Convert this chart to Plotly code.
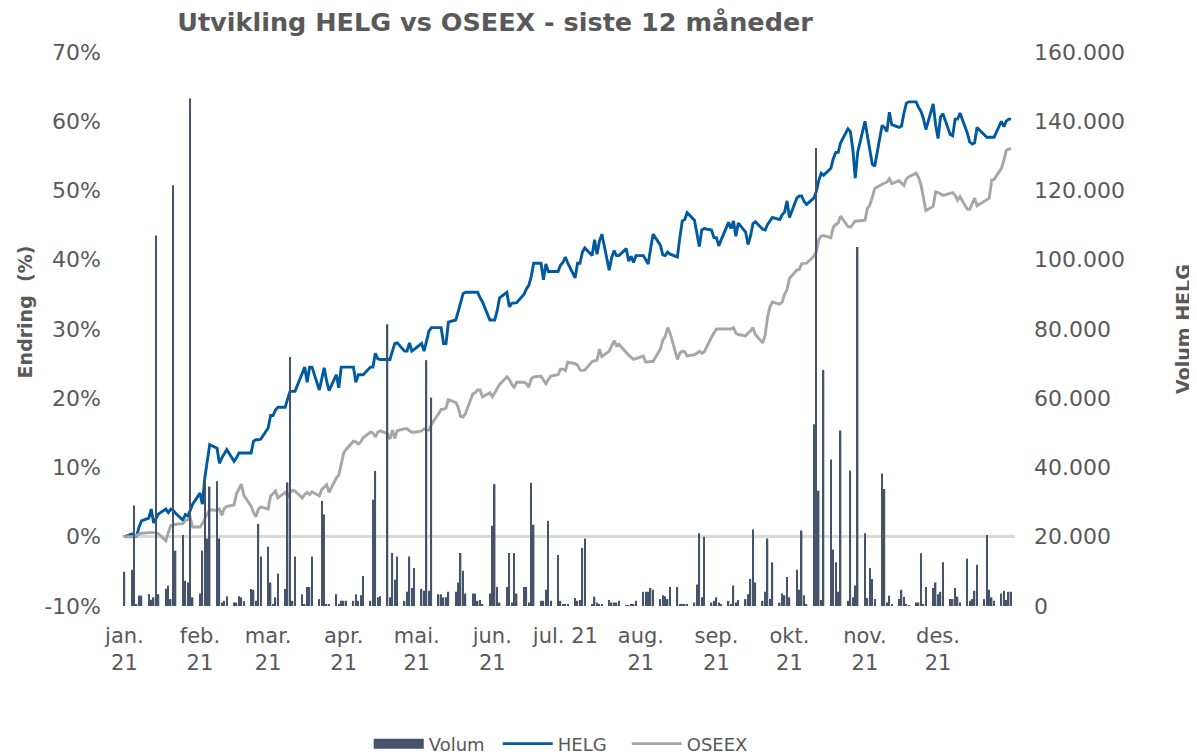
import pandas as pd
import plotly.graph_objects as go

# Trading days (weekdays) of 2021
dates = pd.bdate_range("2021-01-01", "2021-12-31")

# HELG, change in % (one row per month)
helg = [
    0, 0.4, 0, 0.1, 1.4, 2.3, 2.7, 4.0, 2.0, 2.7, 3.3, 4.0, 3.5, 4.0, 3.8, 3.4, 2.4, 3.2, 3.0, 3.8, 4.7,
    6.3, 4.7, 8.5, 11.0, 13.3, 12.8, 10.6, 11.4, 12.0, 12.6, 10.9, 11.4, 12.1, 12.1, 12.1, 12.1, 13.8, 14.0, 14.0, 14.1,
    15.7, 17.5, 17.5, 18.3, 18.7, 18.7, 19.9, 21.0, 21.0, 21.0, 23.6, 24.5, 22.3, 24.5, 24.5, 21.2, 22.8, 24.4, 22.5, 21.1, 23.4, 21.5, 24.5,
    24.5, 24.5, 24.5, 22.3, 23.4, 23.4, 23.4, 24.5, 24.5, 26.5, 25.7, 25.6, 25.6, 25.6, 26.8, 27.9, 28.0, 26.8, 26.8, 28.0, 26.8, 27.1,
    27.9, 26.8, 28.4, 29.7, 30.2, 30.2, 30.2, 27.9, 27.9, 31.0, 31.3, 32.5, 33.9, 35.1, 35.3, 35.3, 35.3, 35.3, 34.5, 33.9, 31.3,
    31.3, 31.3, 32.6, 34.5, 35.3, 33.2, 33.7, 33.8, 33.8, 35.0, 35.8, 36.3, 37.6, 39.5, 39.5, 37.1, 39.4, 38.3, 38.3, 38.3, 39.2, 39.6,
    40.4, 39.5, 37.4, 39.5, 39.5, 41.1, 41.7, 40.6, 42.9, 40.8, 42.7, 43.7, 38.5, 40.3, 41.3, 40.6, 40.6, 41.6, 39.8, 40.5, 39.6, 40.6,
    40.6, 40.0, 39.4, 41.6, 43.7, 42.1, 40.7, 40.6, 41.1, 40.8, 40.4, 43.2, 45.6, 45.8, 46.8, 45.7, 43.7, 41.9, 44.3, 44.5, 44.3, 43.2,
    43.2, 42.0, 42.9, 45.4, 44.5, 45.6, 43.4, 45.3, 44.0, 42.2, 43.4, 45.2, 45.5, 44.4, 44.3, 45.1, 45.6, 46.1, 45.8, 46.5, 46.9, 48.5,
    46.1, 48.9, 49.2, 49.2, 48.4, 48.0, 48.9, 49.8, 51.4, 52.5, 52.2, 53.2, 54.6, 55.5, 55.5, 56.9, 58.9, 58.5, 56.0, 51.8, 55.5,
    60.0, 57.9, 55.6, 53.8, 53.5, 59.4, 59.1, 58.5, 61.3, 59.5, 59.1, 59.3, 61.2, 62.6, 62.8, 62.8, 62.0, 61.4, 60.4, 58.8, 62.5, 59.5,
    57.5, 60.6, 61.1, 58.1, 57.9, 60.3, 60.3, 61.2, 58.3, 57.0, 56.7, 56.9, 59.1, 58.0, 57.7, 57.7, 57.7, 57.7, 60.0, 59.2, 60.0, 60.3, 60.3,
]

# OSEEX, change in %
oseex = [
    0, 0, 0, 0.2, 0.4, 0.5, 0.6, 0.6, 0.6, 0.6, 0.4, -0.6, 0.6, 1.6, 1.7, 1.8, 1.9, 2.3, 2.5, 2.7, 1.4,
    1.4, 1.9, 2.7, 3.3, 3.9, 3.8, 4.0, 3.1, 4.1, 4.4, 4.6, 6.2, 6.9, 7.6, 6.0, 4.4, 3.5, 2.9, 4.0, 4.3,
    4.0, 5.9, 6.2, 6.6, 5.6, 6.4, 5.7, 6.4, 6.7, 6.6, 5.6, 6.1, 6.4, 6.1, 6.5, 5.9, 6.8, 7.2, 7.5, 6.4, 8.5, 8.9, 10.4,
    12.1, 12.6, 13.8, 13.7, 13.4, 13.7, 14.3, 15.1, 15.0, 14.4, 15.1, 15.3, 14.9, 14.1, 15.4, 14.2, 15.3, 15.6, 15.6, 15.3, 15.1, 15.1,
    15.3, 15.6, 15.4, 15.4, 16.2, 17.8, 18.4, 18.4, 18.6, 19.8, 19.4, 18.7, 17.4, 17.3, 17.8, 20.6, 20.8, 21.2, 21.2, 20.2, 20.8,
    20.2, 20.8, 21.5, 22.0, 23.1, 22.7, 22.0, 21.6, 22.3, 22.3, 22.1, 21.6, 22.8, 23.1, 23.2, 22.7, 22.1, 22.7, 23.2, 23.4, 24.2, 24.2,
    24.0, 25.2, 25.0, 24.8, 24.1, 24.0, 24.1, 25.3, 25.4, 25.5, 27.1, 26.0, 26.8, 27.7, 28.3, 27.6, 27.8, 26.6, 26.2, 25.9, 25.6, 25.7,
    26.1, 25.2, 25.3, 25.3, 25.3, 27.1, 28.4, 28.9, 30.2, 29.4, 25.6, 26.5, 26.8, 26.7, 26.1, 26.3, 26.5, 26.8, 26.5, 26.7, 28.8, 29.4,
    30.0, 30.0, 30.0, 29.9, 30.0, 30.2, 29.4, 29.2, 29.0, 29.4, 29.7, 30.2, 29.2, 28.0, 29.1, 31.7, 33.2, 33.9, 33.6, 33.9, 35.0, 35.7,
    37.3, 38.5, 38.6, 39.4, 39.4, 39.5, 40.5, 41.1, 42.9, 43.4, 43.5, 43.2, 44.7, 45.1, 45.3, 46.3, 44.8, 44.7, 45.1, 45.6, 45.6,
    45.7, 47.4, 47.9, 49.0, 50.3, 50.9, 51.0, 51.2, 51.7, 51.0, 51.4, 51.1, 50.7, 51.7, 52.0, 52.5, 51.9, 50.8, 49.0, 47.1, 47.7, 49.8,
    49.7, 49.5, 49.3, 49.6, 49.7, 49.3, 48.6, 49.1, 47.3, 47.3, 48.0, 48.9, 47.8, 48.4, 48.6, 48.9, 51.5, 51.6, 53.2, 54.3, 55.8, 56.0, 56.0,
]

# Volume HELG (shares)
volum = [
    9900, 10500, 29000, 400, 3000, 3000, 3500, 1800, 2500, 107000, 3400, 5000, 5900, 2000, 121500, 16000, 20500, 7300, 6800, 146600, 2500,
    3600, 16000, 36600, 19500, 34500, 36000, 19500, 1000, 1500, 2800, 1000, 1000, 2800, 2500, 1400, 4900, 4700, 1500, 23700, 14300,
    17100, 6800, 400, 2500, 9400, 4900, 35700, 71900, 1500, 14300, 3400, 600, 5500, 5500, 14300, 2000, 30300, 26400, 400, 400, 3400, 600, 1500,
    1500, 1500, 1500, 3400, 1500, 3100, 8700, 1500, 30700, 39000, 2500, 2800, 81400, 2500, 15300, 7600, 14300, 1500, 4100, 14300, 5200, 11000,
    4900, 4400, 71000, 4400, 60200, 3400, 3400, 2500, 2500, 4100, 4100, 6800, 15300, 10200, 3600, 3600, 3600, 1500, 1700, 400, 3600,
    23200, 35200, 5500, 1000, 5500, 15300, 1000, 15300, 3600, 5500, 5500, 1000, 35600, 23500, 1500, 1500, 4700, 24600, 1500, 14700, 1500, 600,
    500, 300, 2300, 1500, 1700, 16800, 19500, 300, 2700, 1000, 600, 400, 1700, 1000, 1000, 1000, 1500, 200, 200, 400, 600, 1500,
    4100, 4100, 4100, 5200, 4700, 2000, 3100, 2800, 2000, 5500, 5500, 600, 600, 600, 400, 1000, 6200, 21000, 2500, 20000, 1000, 1500,
    2500, 1000, 600, 1500, 400, 5900, 1000, 1700, 2000, 3400, 7800, 22100, 6800, 1500, 4100, 19500, 2000, 12600, 1000, 3600, 3100, 8400,
    2500, 10500, 4700, 21800, 3100, 400, 52500, 132300, 33300, 1700, 68200, 42300, 16300, 12600, 4100, 50700, 1500, 39100, 2500, 5900, 103700,
    21000, 2300, 11000, 7800, 2000, 38300, 33800, 1000, 3000, 400, 2000, 4700, 2700, 400, 200, 1000, 1000, 15200, 400, 5500, 5200, 6800,
    3400, 4100, 12600, 2000, 2000, 5200, 2700, 1000, 13700, 1500, 2000, 4400, 11900, 2000, 20500, 4700, 2500, 1500, 3600, 4400, 1700, 4100, 4100,
]

month_ticks = ["2021-01-01", "2021-02-01", "2021-03-01", "2021-04-01", "2021-05-01", "2021-06-01",
               "2021-07-01", "2021-08-01", "2021-09-01", "2021-10-01", "2021-11-01", "2021-12-01"]
month_labels = ["jan.<br>21", "feb.<br>21", "mar.<br>21", "apr.<br>21", "mai.<br>21", "jun.<br>21",
                "jul. 21", "aug.<br>21", "sep.<br>21", "okt.<br>21", "nov.<br>21", "des.<br>21"]
pct_ticks = [-10, 0, 10, 20, 30, 40, 50, 60, 70]
vol_ticks = [0, 20000, 40000, 60000, 80000, 100000, 120000, 140000, 160000]

assert len(dates) == len(helg) == len(oseex) == len(volum)

FONT = "DejaVu Sans"
TXT = "#595959"
VOL_COLOR = "#44546A"

# The page body adds an 8px offset; the figure is sized to fit the window.
W, H = 1189, 747
L, R, T, B = 114, 182, 44, 149

fig = go.Figure()
fig.add_trace(go.Bar(
    x=dates, y=volum, name="Volum", yaxis="y2",
    marker=dict(color=VOL_COLOR, line=dict(width=0)),
    width=0.6 * 86400000, showlegend=False, legendgroup="vol",
))
# legend-only entry drawn as a wide block like the reference
fig.add_trace(go.Scatter(
    x=[None], y=[None], name="Volum", mode="lines", legendgroup="vol",
    line=dict(color=VOL_COLOR, width=12), hoverinfo="skip",
))
fig.add_trace(go.Scatter(
    x=dates, y=helg, name="HELG", mode="lines",
    line=dict(color="#005AA0", width=2.9),
))
fig.add_trace(go.Scatter(
    x=dates, y=oseex, name="OSEEX", mode="lines",
    line=dict(color="#A6A6A6", width=2.9),
))

fig.update_layout(
    width=W, height=H,
    margin=dict(l=L, r=R, t=T, b=B, autoexpand=False),
    paper_bgcolor="white", plot_bgcolor="white",
    font=dict(family=FONT, size=22, color=TXT),
    separators=",.",
    title=dict(
        text="Utvikling HELG vs OSEEX - siste 12 måneder",
        font=dict(family=FONT, size=25.5, color=TXT, weight="bold"),
        x=487 / W, xref="container", xanchor="center",
        y=1 - 14 / H, yref="container", yanchor="middle",
    ),
    xaxis=dict(
        type="date",
        range=["2020-12-31", "2022-01-01 14:00"],
        tickvals=month_ticks, ticktext=month_labels,
        showgrid=False, zeroline=False, showline=False, ticks="",
        ticklabelstandoff=15, automargin=False,
        tickfont=dict(size=21, color=TXT),
    ),
    yaxis=dict(
        range=[-10, 70], tickvals=pct_ticks, ticktext=[f"{v}%" for v in pct_ticks],
        showgrid=False, zeroline=True, zerolinecolor="#D9D9D9", zerolinewidth=3,
        showline=False, ticks="", ticklabelstandoff=20, automargin=False,
        tickfont=dict(size=22, color=TXT),
    ),
    yaxis2=dict(
        range=[0, 160000], tickvals=vol_ticks, tickformat=",d",
        overlaying="y", side="right",
        showgrid=False, zeroline=False, showline=False, ticks="",
        ticklabelstandoff=18, automargin=False,
        tickfont=dict(size=22, color=TXT),
    ),
    legend=dict(
        orientation="h", x=0.493, xanchor="center", y=-0.249, yanchor="middle",
        font=dict(size=18, color=TXT), traceorder="normal",
        itemwidth=50, entrywidth=64, entrywidthmode="pixels",
    ),
    showlegend=True,
    annotations=[
        dict(text="Endring  (%)", textangle=-90, x=(17 - L) / 893, y=0.53,
             xref="paper", yref="paper", xanchor="center", yanchor="middle",
             showarrow=False,
             font=dict(family=FONT, size=19, color=TXT, weight="bold")),
        dict(text="Volum HELG", textangle=-90, x=(1175 - L) / 893, y=0.5,
             xref="paper", yref="paper", xanchor="center", yanchor="middle",
             showarrow=False,
             font=dict(family=FONT, size=19, color=TXT, weight="bold")),
    ],
)

fig.write_html("out.html")
